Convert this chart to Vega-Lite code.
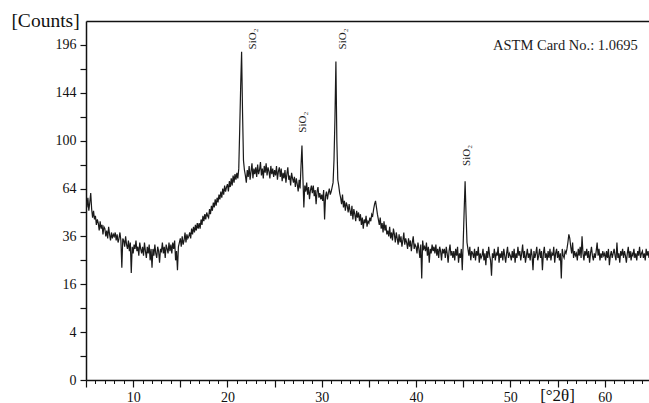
{
 "$schema": "https://vega.github.io/schema/vega-lite/v6.json",
 "width": 563,
 "height": 359,
 "autosize": {"type": "none"},
 "padding": {"left": 86, "top": 21, "right": 0, "bottom": 23},
 "background": "white",
 "config": {
  "view": {"stroke": null},
  "axis": {"grid": false, "domainColor": "#111111", "tickColor": "#111111", "labelColor": "#111111", "titleColor": "#111111", "labelFont": "Liberation Serif", "titleFont": "Liberation Serif", "titleFontWeight": "normal"}
 },
 "datasets": {
  "xrd": [
   {"x":5.0,"y":56},{"x":5.1,"y":52},{"x":5.2,"y":58},{"x":5.3,"y":50},{"x":5.4,"y":55},{"x":5.5,"y":61},{"x":5.6,"y":51},{"x":5.7,"y":46},{"x":5.8,"y":50},{"x":5.9,"y":45},
   {"x":6.0,"y":47},{"x":6.1,"y":42},{"x":6.2,"y":45},{"x":6.3,"y":43},{"x":6.4,"y":39},{"x":6.5,"y":44},{"x":6.6,"y":40},{"x":6.7,"y":42},{"x":6.8,"y":37},{"x":6.9,"y":41},
   {"x":7.0,"y":40},{"x":7.1,"y":36},{"x":7.2,"y":39},{"x":7.3,"y":35},{"x":7.4,"y":41},{"x":7.5,"y":37},{"x":7.6,"y":34},{"x":7.7,"y":38},{"x":7.8,"y":35},{"x":7.9,"y":37},
   {"x":8.0,"y":36},{"x":8.1,"y":38},{"x":8.2,"y":34},{"x":8.3,"y":37},{"x":8.4,"y":33},{"x":8.5,"y":35},{"x":8.6,"y":38},{"x":8.7,"y":34},{"x":8.8,"y":22},{"x":8.9,"y":35},
   {"x":9.0,"y":34},{"x":9.1,"y":31},{"x":9.2,"y":36},{"x":9.3,"y":32},{"x":9.4,"y":30},{"x":9.5,"y":34},{"x":9.6,"y":29},{"x":9.7,"y":33},{"x":9.8,"y":20},{"x":9.9,"y":31},
   {"x":10.0,"y":28},{"x":10.1,"y":32},{"x":10.2,"y":30},{"x":10.3,"y":34},{"x":10.4,"y":29},{"x":10.5,"y":31},{"x":10.6,"y":27},{"x":10.7,"y":33},{"x":10.8,"y":30},{"x":10.9,"y":28},
   {"x":11.0,"y":31},{"x":11.1,"y":27},{"x":11.2,"y":33},{"x":11.3,"y":29},{"x":11.4,"y":26},{"x":11.5,"y":31},{"x":11.6,"y":28},{"x":11.7,"y":32},{"x":11.8,"y":25},{"x":11.9,"y":30},
   {"x":12.0,"y":22},{"x":12.1,"y":30},{"x":12.2,"y":27},{"x":12.3,"y":32},{"x":12.4,"y":28},{"x":12.5,"y":26},{"x":12.6,"y":31},{"x":12.7,"y":29},{"x":12.8,"y":24},{"x":12.9,"y":30},
   {"x":13.0,"y":29},{"x":13.1,"y":33},{"x":13.2,"y":28},{"x":13.3,"y":31},{"x":13.4,"y":26},{"x":13.5,"y":32},{"x":13.6,"y":30},{"x":13.7,"y":28},{"x":13.8,"y":33},{"x":13.9,"y":29},
   {"x":14.0,"y":32},{"x":14.1,"y":28},{"x":14.2,"y":33},{"x":14.3,"y":30},{"x":14.4,"y":34},{"x":14.5,"y":25},{"x":14.6,"y":29},{"x":14.7,"y":21},{"x":14.8,"y":31},{"x":14.9,"y":33},
   {"x":15.0,"y":35},{"x":15.1,"y":31},{"x":15.2,"y":36},{"x":15.3,"y":32},{"x":15.4,"y":34},{"x":15.5,"y":38},{"x":15.6,"y":33},{"x":15.7,"y":37},{"x":15.8,"y":35},{"x":15.9,"y":36},
   {"x":16.0,"y":38},{"x":16.1,"y":35},{"x":16.2,"y":40},{"x":16.3,"y":37},{"x":16.4,"y":41},{"x":16.5,"y":38},{"x":16.6,"y":42},{"x":16.7,"y":39},{"x":16.8,"y":43},{"x":16.9,"y":40},
   {"x":17.0,"y":43},{"x":17.1,"y":40},{"x":17.2,"y":45},{"x":17.3,"y":42},{"x":17.4,"y":47},{"x":17.5,"y":44},{"x":17.6,"y":48},{"x":17.7,"y":45},{"x":17.8,"y":49},{"x":17.9,"y":47},
   {"x":18.0,"y":46},{"x":18.1,"y":51},{"x":18.2,"y":48},{"x":18.3,"y":53},{"x":18.4,"y":50},{"x":18.5,"y":55},{"x":18.6,"y":52},{"x":18.7,"y":57},{"x":18.8,"y":53},{"x":18.9,"y":58},
   {"x":19.0,"y":55},{"x":19.1,"y":60},{"x":19.2,"y":57},{"x":19.3,"y":62},{"x":19.4,"y":58},{"x":19.5,"y":64},{"x":19.6,"y":60},{"x":19.7,"y":66},{"x":19.8,"y":62},{"x":19.9,"y":65},
   {"x":20.0,"y":67},{"x":20.1,"y":62},{"x":20.2,"y":69},{"x":20.3,"y":65},{"x":20.4,"y":71},{"x":20.5,"y":66},{"x":20.6,"y":73},{"x":20.7,"y":68},{"x":20.8,"y":74},{"x":20.9,"y":70},
   {"x":21.0,"y":75},{"x":21.1,"y":71},{"x":21.2,"y":78},{"x":21.3,"y":110},{"x":21.4,"y":150},{"x":21.5,"y":188},{"x":21.6,"y":125},{"x":21.7,"y":84},{"x":21.8,"y":77},{"x":21.9,"y":73},
   {"x":22.0,"y":68},{"x":22.1,"y":77},{"x":22.2,"y":72},{"x":22.3,"y":80},{"x":22.4,"y":70},{"x":22.5,"y":76},{"x":22.6,"y":82},{"x":22.7,"y":71},{"x":22.8,"y":78},{"x":22.9,"y":74},
   {"x":23.0,"y":79},{"x":23.1,"y":72},{"x":23.2,"y":81},{"x":23.3,"y":74},{"x":23.4,"y":77},{"x":23.5,"y":83},{"x":23.6,"y":73},{"x":23.7,"y":78},{"x":23.8,"y":71},{"x":23.9,"y":80},
   {"x":24.0,"y":75},{"x":24.1,"y":82},{"x":24.2,"y":73},{"x":24.3,"y":79},{"x":24.4,"y":76},{"x":24.5,"y":71},{"x":24.6,"y":80},{"x":24.7,"y":74},{"x":24.8,"y":78},{"x":24.9,"y":72},
   {"x":25.0,"y":77},{"x":25.1,"y":73},{"x":25.2,"y":80},{"x":25.3,"y":70},{"x":25.4,"y":76},{"x":25.5,"y":79},{"x":25.6,"y":72},{"x":25.7,"y":78},{"x":25.8,"y":69},{"x":25.9,"y":75},
   {"x":26.0,"y":71},{"x":26.1,"y":77},{"x":26.2,"y":68},{"x":26.3,"y":74},{"x":26.4,"y":79},{"x":26.5,"y":70},{"x":26.6,"y":73},{"x":26.7,"y":66},{"x":26.8,"y":75},{"x":26.9,"y":71},
   {"x":27.0,"y":68},{"x":27.1,"y":72},{"x":27.2,"y":65},{"x":27.3,"y":71},{"x":27.4,"y":67},{"x":27.5,"y":62},{"x":27.6,"y":70},{"x":27.7,"y":64},{"x":27.8,"y":80},{"x":27.9,"y":96},
   {"x":28.0,"y":72},{"x":28.1,"y":52},{"x":28.2,"y":66},{"x":28.3,"y":62},{"x":28.4,"y":68},{"x":28.5,"y":60},{"x":28.6,"y":65},{"x":28.7,"y":57},{"x":28.8,"y":63},{"x":28.9,"y":66},
   {"x":29.0,"y":61},{"x":29.1,"y":66},{"x":29.2,"y":59},{"x":29.3,"y":63},{"x":29.4,"y":54},{"x":29.5,"y":62},{"x":29.6,"y":65},{"x":29.7,"y":58},{"x":29.8,"y":61},{"x":29.9,"y":57},
   {"x":30.0,"y":60},{"x":30.1,"y":56},{"x":30.2,"y":63},{"x":30.3,"y":45},{"x":30.4,"y":59},{"x":30.5,"y":62},{"x":30.6,"y":57},{"x":30.7,"y":61},{"x":30.8,"y":64},{"x":30.9,"y":60},
   {"x":31.0,"y":62},{"x":31.1,"y":65},{"x":31.2,"y":68},{"x":31.3,"y":85},{"x":31.4,"y":120},{"x":31.5,"y":177},{"x":31.6,"y":100},{"x":31.7,"y":70},{"x":31.8,"y":66},{"x":31.9,"y":61},
   {"x":32.0,"y":58},{"x":32.1,"y":54},{"x":32.2,"y":60},{"x":32.3,"y":52},{"x":32.4,"y":56},{"x":32.5,"y":50},{"x":32.6,"y":55},{"x":32.7,"y":53},{"x":32.8,"y":49},{"x":32.9,"y":54},
   {"x":33.0,"y":50},{"x":33.1,"y":47},{"x":33.2,"y":53},{"x":33.3,"y":45},{"x":33.4,"y":51},{"x":33.5,"y":48},{"x":33.6,"y":44},{"x":33.7,"y":50},{"x":33.8,"y":46},{"x":33.9,"y":49},
   {"x":34.0,"y":44},{"x":34.1,"y":48},{"x":34.2,"y":42},{"x":34.3,"y":46},{"x":34.4,"y":40},{"x":34.5,"y":45},{"x":34.6,"y":43},{"x":34.7,"y":47},{"x":34.8,"y":41},{"x":34.9,"y":44},
   {"x":35.0,"y":43},{"x":35.1,"y":46},{"x":35.2,"y":44},{"x":35.3,"y":48},{"x":35.4,"y":47},{"x":35.5,"y":51},{"x":35.6,"y":54},{"x":35.7,"y":56},{"x":35.8,"y":52},{"x":35.9,"y":48},
   {"x":36.0,"y":45},{"x":36.1,"y":42},{"x":36.2,"y":46},{"x":36.3,"y":40},{"x":36.4,"y":43},{"x":36.5,"y":38},{"x":36.6,"y":44},{"x":36.7,"y":39},{"x":36.8,"y":42},{"x":36.9,"y":37},
   {"x":37.0,"y":39},{"x":37.1,"y":36},{"x":37.2,"y":41},{"x":37.3,"y":35},{"x":37.4,"y":38},{"x":37.5,"y":34},{"x":37.6,"y":40},{"x":37.7,"y":37},{"x":37.8,"y":33},{"x":37.9,"y":38},
   {"x":38.0,"y":35},{"x":38.1,"y":32},{"x":38.2,"y":37},{"x":38.3,"y":33},{"x":38.4,"y":36},{"x":38.5,"y":31},{"x":38.6,"y":34},{"x":38.7,"y":38},{"x":38.8,"y":32},{"x":38.9,"y":35},
   {"x":39.0,"y":33},{"x":39.1,"y":30},{"x":39.2,"y":35},{"x":39.3,"y":31},{"x":39.4,"y":34},{"x":39.5,"y":29},{"x":39.6,"y":33},{"x":39.7,"y":36},{"x":39.8,"y":30},{"x":39.9,"y":32},
   {"x":40.0,"y":31},{"x":40.1,"y":28},{"x":40.2,"y":33},{"x":40.3,"y":30},{"x":40.4,"y":26},{"x":40.5,"y":32},{"x":40.6,"y":18},{"x":40.7,"y":34},{"x":40.8,"y":30},{"x":40.9,"y":31},
   {"x":41.0,"y":29},{"x":41.1,"y":33},{"x":41.2,"y":27},{"x":41.3,"y":31},{"x":41.4,"y":24},{"x":41.5,"y":30},{"x":41.6,"y":28},{"x":41.7,"y":32},{"x":41.8,"y":29},{"x":41.9,"y":31},
   {"x":42.0,"y":28},{"x":42.1,"y":32},{"x":42.2,"y":27},{"x":42.3,"y":30},{"x":42.4,"y":26},{"x":42.5,"y":31},{"x":42.6,"y":29},{"x":42.7,"y":25},{"x":42.8,"y":30},{"x":42.9,"y":28},
   {"x":43.0,"y":30},{"x":43.1,"y":26},{"x":43.2,"y":31},{"x":43.3,"y":28},{"x":43.4,"y":24},{"x":43.5,"y":29},{"x":43.6,"y":32},{"x":43.7,"y":27},{"x":43.8,"y":29},{"x":43.9,"y":26},
   {"x":44.0,"y":29},{"x":44.1,"y":25},{"x":44.2,"y":30},{"x":44.3,"y":27},{"x":44.4,"y":31},{"x":44.5,"y":24},{"x":44.6,"y":28},{"x":44.7,"y":26},{"x":44.8,"y":30},{"x":44.9,"y":21},
   {"x":45.0,"y":33},{"x":45.1,"y":50},{"x":45.2,"y":69},{"x":45.3,"y":48},{"x":45.4,"y":33},{"x":45.5,"y":30},{"x":45.6,"y":27},{"x":45.7,"y":31},{"x":45.8,"y":25},{"x":45.9,"y":29},
   {"x":46.0,"y":28},{"x":46.1,"y":26},{"x":46.2,"y":30},{"x":46.3,"y":25},{"x":46.4,"y":29},{"x":46.5,"y":27},{"x":46.6,"y":31},{"x":46.7,"y":24},{"x":46.8,"y":28},{"x":46.9,"y":26},
   {"x":47.0,"y":27},{"x":47.1,"y":30},{"x":47.2,"y":25},{"x":47.3,"y":28},{"x":47.4,"y":23},{"x":47.5,"y":29},{"x":47.6,"y":26},{"x":47.7,"y":31},{"x":47.8,"y":27},{"x":47.9,"y":25},
   {"x":48.0,"y":19},{"x":48.1,"y":28},{"x":48.2,"y":26},{"x":48.3,"y":30},{"x":48.4,"y":25},{"x":48.5,"y":28},{"x":48.6,"y":27},{"x":48.7,"y":31},{"x":48.8,"y":24},{"x":48.9,"y":28},
   {"x":49.0,"y":26},{"x":49.1,"y":29},{"x":49.2,"y":25},{"x":49.3,"y":30},{"x":49.4,"y":27},{"x":49.5,"y":24},{"x":49.6,"y":28},{"x":49.7,"y":31},{"x":49.8,"y":26},{"x":49.9,"y":28},
   {"x":50.0,"y":27},{"x":50.1,"y":25},{"x":50.2,"y":29},{"x":50.3,"y":26},{"x":50.4,"y":30},{"x":50.5,"y":24},{"x":50.6,"y":28},{"x":50.7,"y":26},{"x":50.8,"y":31},{"x":50.9,"y":27},
   {"x":51.0,"y":29},{"x":51.1,"y":25},{"x":51.2,"y":28},{"x":51.3,"y":32},{"x":51.4,"y":26},{"x":51.5,"y":29},{"x":51.6,"y":24},{"x":51.7,"y":27},{"x":51.8,"y":30},{"x":51.9,"y":26},
   {"x":52.0,"y":28},{"x":52.1,"y":25},{"x":52.2,"y":30},{"x":52.3,"y":27},{"x":52.4,"y":21},{"x":52.5,"y":29},{"x":52.6,"y":26},{"x":52.7,"y":28},{"x":52.8,"y":31},{"x":52.9,"y":25},
   {"x":53.0,"y":27},{"x":53.1,"y":30},{"x":53.2,"y":26},{"x":53.3,"y":29},{"x":53.4,"y":21},{"x":53.5,"y":28},{"x":53.6,"y":31},{"x":53.7,"y":26},{"x":53.8,"y":28},{"x":53.9,"y":25},
   {"x":54.0,"y":29},{"x":54.1,"y":26},{"x":54.2,"y":30},{"x":54.3,"y":25},{"x":54.4,"y":28},{"x":54.5,"y":27},{"x":54.6,"y":31},{"x":54.7,"y":24},{"x":54.8,"y":28},{"x":54.9,"y":30},
   {"x":55.0,"y":26},{"x":55.1,"y":29},{"x":55.2,"y":25},{"x":55.3,"y":28},{"x":55.4,"y":18},{"x":55.5,"y":30},{"x":55.6,"y":27},{"x":55.7,"y":26},{"x":55.8,"y":29},{"x":55.9,"y":28},
   {"x":56.0,"y":30},{"x":56.1,"y":33},{"x":56.2,"y":37},{"x":56.3,"y":35},{"x":56.4,"y":31},{"x":56.5,"y":28},{"x":56.6,"y":33},{"x":56.7,"y":26},{"x":56.8,"y":29},{"x":56.9,"y":27},
   {"x":57.0,"y":28},{"x":57.1,"y":25},{"x":57.2,"y":30},{"x":57.3,"y":27},{"x":57.4,"y":31},{"x":57.5,"y":26},{"x":57.6,"y":36},{"x":57.7,"y":28},{"x":57.8,"y":25},{"x":57.9,"y":29},
   {"x":58.0,"y":27},{"x":58.1,"y":30},{"x":58.2,"y":26},{"x":58.3,"y":29},{"x":58.4,"y":24},{"x":58.5,"y":28},{"x":58.6,"y":31},{"x":58.7,"y":27},{"x":58.8,"y":25},{"x":58.9,"y":28},
   {"x":59.0,"y":26},{"x":59.1,"y":29},{"x":59.2,"y":33},{"x":59.3,"y":27},{"x":59.4,"y":30},{"x":59.5,"y":25},{"x":59.6,"y":28},{"x":59.7,"y":26},{"x":59.8,"y":29},{"x":59.9,"y":27},
   {"x":60.0,"y":28},{"x":60.1,"y":25},{"x":60.2,"y":29},{"x":60.3,"y":26},{"x":60.4,"y":30},{"x":60.5,"y":23},{"x":60.6,"y":27},{"x":60.7,"y":29},{"x":60.8,"y":26},{"x":60.9,"y":28},
   {"x":61.0,"y":30},{"x":61.1,"y":27},{"x":61.2,"y":25},{"x":61.3,"y":33},{"x":61.4,"y":26},{"x":61.5,"y":28},{"x":61.6,"y":24},{"x":61.7,"y":29},{"x":61.8,"y":27},{"x":61.9,"y":30},
   {"x":62.0,"y":26},{"x":62.1,"y":29},{"x":62.2,"y":27},{"x":62.3,"y":24},{"x":62.4,"y":28},{"x":62.5,"y":31},{"x":62.6,"y":26},{"x":62.7,"y":29},{"x":62.8,"y":25},{"x":62.9,"y":28},
   {"x":63.0,"y":27},{"x":63.1,"y":30},{"x":63.2,"y":26},{"x":63.3,"y":28},{"x":63.4,"y":25},{"x":63.5,"y":29},{"x":63.6,"y":27},{"x":63.7,"y":31},{"x":63.8,"y":26},{"x":63.9,"y":28},
   {"x":64.0,"y":29},{"x":64.1,"y":26},{"x":64.2,"y":28},{"x":64.3,"y":25},{"x":64.4,"y":30},{"x":64.5,"y":27},{"x":64.6,"y":29},{"x":64.7,"y":26}
  ],
  "peaks": [
   {"x":22.7,"y":203,"label":"SiO₂"},
   {"x":28.0,"y":116,"label":"SiO₂"},
   {"x":32.2,"y":203,"label":"SiO₂"},
   {"x":45.4,"y":88,"label":"SiO₂"}
  ],
  "note": [
   {"x":63.5,"y":195,"label":"ASTM Card No.: 1.0695"}
  ]
 },
 "encoding": {
  "y": {"field": "y", "type": "quantitative",
   "scale": {"type": "sqrt", "domain": [0, 225], "nice": false},
   "axis": {"orient": "left", "values": [0,1,4,9,16,25,36,49,64,81,100,121,144,169,196], "tickSize": 6, "tickWidth": 1.2, "domainWidth": 1.5,
    "labelExpr": "sqrt(datum.value) % 2 === 0 ? datum.label : ''", "labelFontSize": 14, "labelPadding": 4,
    "title": "[Counts]", "titleFontSize": 19.5, "titleAngle": 0, "titleX": -41, "titleY": -1, "titleAlign": "center", "titleBaseline": "middle"}}
 },
 "layer": [
  {
   "data": {"name": "xrd"},
   "mark": {"type": "line", "color": "#1a1a1a", "strokeWidth": 1.2, "clip": true},
   "encoding": {
    "x": {"field": "x", "type": "quantitative",
     "scale": {"domain": [5, 64.7], "nice": false, "zero": false},
     "axis": {"orient": "bottom", "values": [5,10,15,20,25,30,35,40,45,50,55,60], "tickSize": 7, "tickWidth": 1.2, "domainWidth": 1.5,
      "labelExpr": "datum.value % 10 === 0 ? datum.label : ''", "labelFontSize": 14, "labelPadding": 3,
      "title": "[°2θ]", "titleFontSize": 17, "titleX": 471, "titleY": 20, "titleAlign": "center", "titleBaseline": "alphabetic"}}
   }
  },
  {
   "data": {"name": "peaks"},
   "mark": {"type": "text", "angle": 270, "font": "Liberation Serif", "fontSize": 11, "color": "#1c1c1c", "align": "center", "baseline": "middle"},
   "encoding": {
    "x": {"field": "x", "type": "quantitative",
     "scale": {"domain": [5, 64.7], "nice": false, "zero": false},
     "axis": {"orient": "bottom", "values": [6,7,8,9,11,12,13,14,16,17,18,19,21,22,23,24,26,27,28,29,31,32,33,34,36,37,38,39,41,42,43,44,46,47,48,49,51,52,53,54,56,57,58,59,61,62,63,64],
      "tickSize": 3.5, "tickWidth": 1, "labels": false, "domain": false, "title": null}},
    "text": {"field": "label"}
   }
  },
  {
   "data": {"name": "note"},
   "mark": {"type": "text", "font": "Liberation Serif", "fontSize": 14.5, "color": "#1c1c1c", "align": "right", "baseline": "middle"},
   "encoding": {
    "x": {"field": "x", "type": "quantitative",
     "scale": {"domain": [5, 64.7], "nice": false, "zero": false},
     "axis": {"orient": "top", "ticks": false, "labels": false, "domain": true, "domainWidth": 1.5, "title": null}},
    "text": {"field": "label"}
   }
  }
 ],
 "resolve": {"axis": {"x": "independent"}}
}
